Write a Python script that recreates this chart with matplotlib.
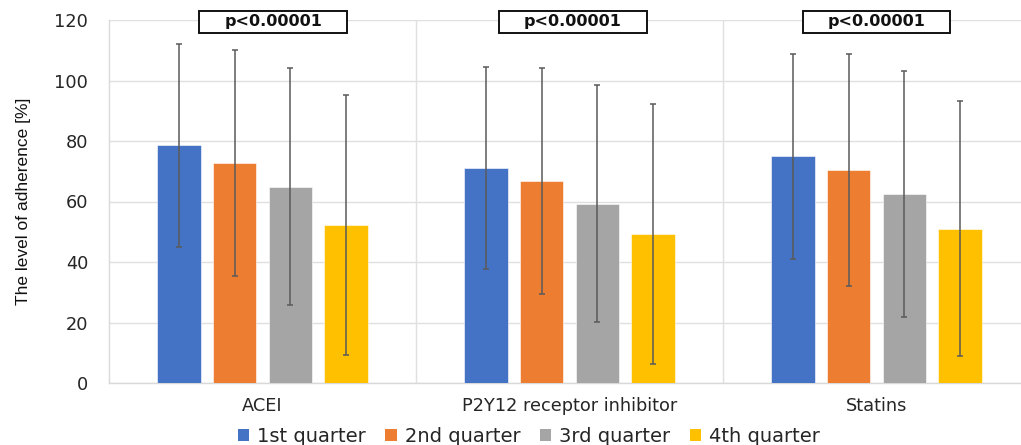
import matplotlib
matplotlib.use("Agg")
import matplotlib.pyplot as plt
from matplotlib.patches import Rectangle, Patch
import numpy as np

categories = ["ACEI", "P2Y12 receptor inhibitor", "Statins"]
series = ["1st quarter", "2nd quarter", "3rd quarter", "4th quarter"]
means = {
    "1st quarter": [78.6, 71.1, 74.9],
    "2nd quarter": [72.8, 66.8, 70.4],
    "3rd quarter": [64.9, 59.3, 62.5],
    "4th quarter": [52.3, 49.3, 51.0],
}
sds = {
    "1st quarter": [33.5, 33.3, 33.9],
    "2nd quarter": [37.3, 37.3, 38.4],
    "3rd quarter": [39.2, 39.2, 40.8],
    "4th quarter": [42.9, 42.9, 42.2],
}
colors = ["#4472C4", "#ED7D31", "#A5A5A5", "#FFC000"]
p_labels = ["p<0.00001", "p<0.00001", "p<0.00001"]
yticks = [0, 20, 40, 60, 80, 100, 120]

W, H = 1021, 445
fig = plt.figure(figsize=(W / 100, H / 100), dpi=100)
left_px, right_px, top_px, bottom_px = 109, 1030, 20, 383
ax = fig.add_axes([left_px / W, (H - bottom_px) / H,
                   (right_px - left_px) / W, (bottom_px - top_px) / H])

x = np.arange(len(categories))
bar_w = 0.1433
step = 0.1824
for i, s in enumerate(series):
    off = (i - 1.5) * step
    ax.bar(x + off, means[s], width=bar_w, color=colors[i], zorder=3,
           edgecolor="white", linewidth=0.4)
    ax.errorbar(x + off, means[s], yerr=sds[s], fmt="none", ecolor="#5a5a5a",
                elinewidth=1.1, capsize=2.2, capthick=1.1, zorder=4)

ax.set_xlim(-0.5, 2.5)
ax.set_ylim(0, 120)
ax.set_yticks(yticks)
ax.set_xticks(x)
ax.set_xticklabels(categories, fontsize=12.8, color="#262626")
ax.tick_params(axis="y", length=0, pad=15, labelsize=12.8, labelcolor="#262626")
ax.tick_params(axis="x", length=0, pad=10)
ax.grid(axis="y", color="#e0e0e0", linewidth=1, zorder=0)
for b in [0.5, 1.5]:
    ax.axvline(b, color="#e0e0e0", linewidth=1, zorder=0)
for sp in ["top", "right"]:
    ax.spines[sp].set_visible(False)
for sp in ["left", "bottom"]:
    ax.spines[sp].set_color("#d9d9d9")
    ax.spines[sp].set_linewidth(1)

ax.set_ylabel("The level of adherence [%]", fontsize=12.5, family="Liberation Sans",
              color="#111111", labelpad=17)

# p-value boxes
box_w = 0.482
box_off = [0.035, 0.01, 0.0]
for i, lab in enumerate(p_labels):
    cx = x[i] + box_off[i]
    r = Rectangle((cx - box_w / 2, 115.7), box_w, 7.3, facecolor="white",
                  edgecolor="#111111", linewidth=1.4, clip_on=False, zorder=6)
    ax.add_patch(r)
    ax.text(cx, 119.35, lab, ha="center", va="center", fontsize=11.5,
            fontweight="bold", color="#111111", zorder=7, clip_on=False)

handles = [Patch(facecolor=c, edgecolor="none") for c in colors]
fig.legend(handles, series, loc="center", bbox_to_anchor=(0.518, 0.02),
           ncol=4, frameon=False, fontsize=14, handlelength=0.6,
           handleheight=0.6, handletextpad=0.4, columnspacing=1.0,
           labelcolor="#262626")

fig.savefig("out.png", dpi=100)
